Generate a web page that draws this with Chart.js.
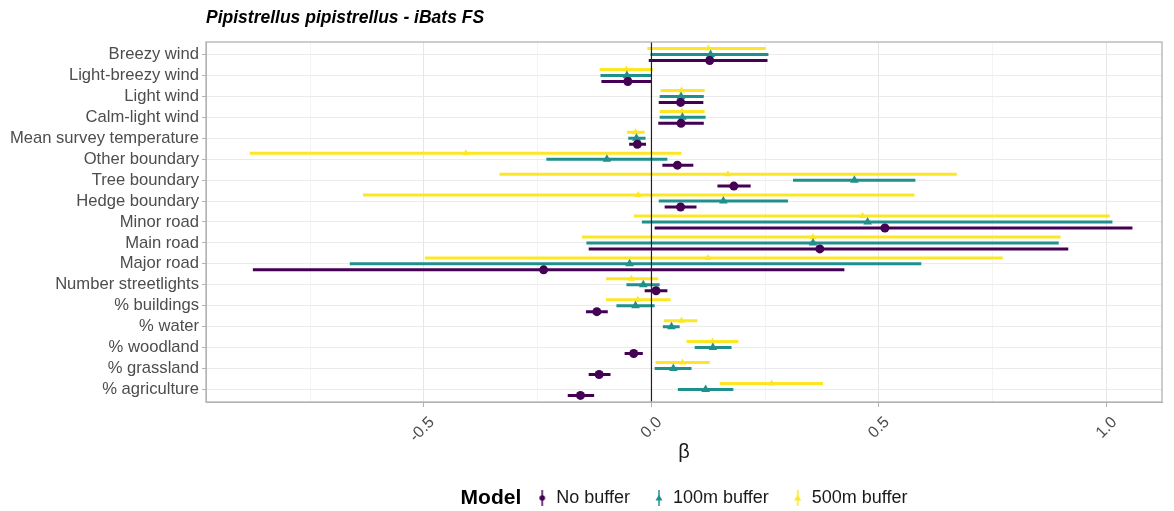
<!DOCTYPE html>
<html>
<head>
<meta charset="utf-8">
<script src="https://cdn.jsdelivr.net/npm/chart.js@4/dist/chart.umd.min.js"></script>
<style>
  html, body { margin: 0; padding: 0; background: #fff; }
</style>
</head>
<body>
<canvas id="chart" width="1174" height="511"></canvas>
<script>
const categories = ['Breezy wind', 'Light-breezy wind', 'Light wind', 'Calm-light wind',
  'Mean survey temperature', 'Other boundary', 'Tree boundary', 'Hedge boundary',
  'Minor road', 'Main road', 'Major road', 'Number streetlights', '% buildings',
  '% water', '% woodland', '% grassland', '% agriculture'];

// estimates and interval ends, one value per category (null = not in model)
const noBufferEst = [0.128, -0.052, 0.064, 0.065, -0.031, 0.057, 0.181, 0.064, 0.513, 0.370, -0.237, 0.010, -0.120, null, -0.039, -0.115, -0.156];
const noBufferLo  = [-0.006, -0.110, 0.016, 0.015, -0.049, 0.024, 0.145, 0.029, 0.007, -0.138, -0.876, -0.015, -0.144, null, -0.059, -0.138, -0.184];
const noBufferHi  = [0.255, 0.000, 0.114, 0.115, -0.012, 0.092, 0.218, 0.099, 1.057, 0.916, 0.424, 0.035, -0.096, null, -0.019, -0.090, -0.126];

const buf100Est = [0.130, -0.054, 0.065, 0.068, -0.033, -0.098, 0.446, 0.158, 0.475, 0.355, -0.048, -0.018, -0.035, 0.044, 0.135, 0.048, 0.119];
const buf100Lo  = [-0.002, -0.112, 0.018, 0.018, -0.051, -0.231, 0.311, 0.016, -0.021, -0.143, -0.663, -0.055, -0.077, 0.025, 0.095, 0.007, 0.058];
const buf100Hi  = [0.257, 0.001, 0.115, 0.119, -0.013, 0.035, 0.580, 0.300, 1.013, 0.895, 0.593, 0.018, 0.007, 0.062, 0.176, 0.088, 0.180];

const buf500Est = [0.125, -0.055, 0.066, 0.067, -0.035, -0.408, 0.168, -0.029, 0.464, 0.355, 0.124, -0.044, -0.030, 0.066, 0.134, 0.068, 0.264];
const buf500Lo  = [-0.009, -0.114, 0.020, 0.018, -0.054, -0.883, -0.334, -0.634, -0.039, -0.153, -0.498, -0.100, -0.100, 0.027, 0.077, 0.009, 0.150];
const buf500Hi  = [0.251, 0.003, 0.117, 0.117, -0.015, 0.066, 0.671, 0.578, 1.007, 0.899, 0.772, 0.015, 0.042, 0.101, 0.191, 0.128, 0.377];

const xTicks = [-0.75, -0.5, -0.25, 0, 0.25, 0.5, 0.75, 1.0];

Chart.defaults.font.family = '"Liberation Sans", Arial, sans-serif';

const isMajor = v => Math.abs(v * 2 - Math.round(v * 2)) < 1e-9;

// point + interval rows: lo, est, hi, gap
function rows(est, lo, hi, shift) {
  const out = [];
  est.forEach((e, i) => {
    if (e === null) return;
    const y = i + 1 + shift;
    out.push({x: lo[i], y: y}, {x: e, y: y}, {x: hi[i], y: y}, {x: null, y: null});
  });
  return out;
}

function legendIcon(color, shape) {
  const c = document.createElement('canvas');
  c.width = 10; c.height = 18;
  const g = c.getContext('2d');
  g.strokeStyle = color; g.fillStyle = color; g.lineWidth = 1.5;
  g.beginPath(); g.moveTo(5, 1); g.lineTo(5, 17); g.stroke();
  g.beginPath();
  if (shape === 'circle') {
    g.arc(5, 9, 2.8, 0, Math.PI * 2);
  } else {
    g.moveTo(5, 5.5); g.lineTo(8.5, 11.5); g.lineTo(1.5, 11.5); g.closePath();
  }
  g.fill();
  return c;
}

const series = [
  {label: 'No buffer', color: '#440154', shape: 'circle', r: 4.5, est: noBufferEst, lo: noBufferLo, hi: noBufferHi, shift: 0.285, order: 1},
  {label: '100m buffer', color: '#21908C', shape: 'triangle', r: 5, est: buf100Est, lo: buf100Lo, hi: buf100Hi, shift: 0, order: 2},
  {label: '500m buffer', color: '#FDE725', shape: 'triangle', r: 4, est: buf500Est, lo: buf500Lo, hi: buf500Hi, shift: -0.285, order: 3}
];

const datasets = series.map(s => ({
  type: 'line',
  label: s.label,
  data: rows(s.est, s.lo, s.hi, s.shift),
  borderColor: s.color,
  backgroundColor: s.color,
  borderWidth: 3,
  spanGaps: false,
  pointStyle: s.shape,
  pointRadius: ctx => (ctx.index % 4 === 1 ? s.r : 0),
  pointBorderWidth: 0,
  order: s.order
}));

datasets.push({
  type: 'line',
  label: 'zero',
  data: [{x: 0, y: 0.4}, {x: 0, y: categories.length + 0.6}],
  borderColor: '#222',
  borderWidth: 1.2,
  pointRadius: 0,
  order: 0
});

const modelFont = 'bold 21px "Liberation Sans", Arial, sans-serif';

const modelLegend = {
  id: 'modelLegend',
  afterLayout(chart) {
    const lg = chart.legend, ca = chart.chartArea, ctx = chart.ctx;
    ctx.save();
    ctx.font = modelFont;
    const w = ctx.measureText('Model').width + 16;
    ctx.restore();
    const target = (ca.left + ca.right) / 2 + w / 2;
    const shift = target - (lg.left + lg.right) / 2;
    lg.left += shift; lg.right += shift;
  },
  afterDraw(chart) {
    const ctx = chart.ctx, ca = chart.chartArea;
    ctx.save();
    ctx.strokeStyle = '#b3b3b3'; ctx.lineWidth = 1.3;
    ctx.strokeRect(ca.left, ca.top, ca.right - ca.left, ca.bottom - ca.top);
    const hb = chart.legend.legendHitBoxes[0];
    if (hb) {
      ctx.font = modelFont;
      ctx.fillStyle = '#000';
      ctx.textAlign = 'right'; ctx.textBaseline = 'middle';
      ctx.fillText('Model', hb.left - 16, hb.top + hb.height / 2);
    }
    ctx.restore();
  }
};

new Chart(document.getElementById('chart'), {
  data: { datasets: datasets },
  options: {
    responsive: false,
    animation: false,
    layout: { padding: { left: 0, right: 12, top: 0, bottom: -6 } },
    plugins: {
      title: {
        display: true,
        text: 'Pipistrellus pipistrellus - iBats FS',
        align: 'start',
        fullSize: false,
        color: '#000',
        font: { size: 17.5, weight: 'bold', style: 'italic' },
        padding: { top: 8, bottom: 13 }
      },
      legend: {
        position: 'bottom',
        labels: {
          usePointStyle: true,
          boxWidth: 10,
          padding: 24,
          color: '#1a1a1a',
          font: { size: 18 },
          generateLabels: () => series.map((s, i) => ({
            text: s.label,
            pointStyle: legendIcon(s.color, s.shape),
            fillStyle: s.color,
            strokeStyle: s.color,
            lineWidth: 0,
            fontColor: '#1a1a1a',
            hidden: false,
            datasetIndex: i
          }))
        }
      },
      tooltip: { enabled: false }
    },
    scales: {
      x: {
        type: 'linear',
        min: -0.979,
        max: 1.122,
        afterBuildTicks: s => { s.ticks = xTicks.map(v => ({ value: v })); },
        afterFit: s => { s.height = 63; },
        ticks: {
          autoSkip: false,
          minRotation: 45,
          maxRotation: 45,
          labelOffset: 8,
          padding: 6,
          color: '#4d4d4d',
          font: { size: 16 },
          callback: v => (isMajor(v) ? v.toFixed(1) : '')
        },
        grid: {
          color: ctx => (ctx.tick && isMajor(ctx.tick.value) ? '#e6e6e6' : '#f4f4f4'),
          tickColor: ctx => (ctx.tick && isMajor(ctx.tick.value) ? '#b3b3b3' : 'rgba(0,0,0,0)'),
          tickLength: 5
        },
        border: { color: '#b3b3b3' },
        title: { display: true, text: 'β', color: '#1a1a1a', font: { size: 20 }, padding: { top: 2, bottom: 1 } }
      },
      y: {
        type: 'linear',
        reverse: true,
        min: 0.4,
        max: categories.length + 0.6,
        afterBuildTicks: s => { s.ticks = categories.map((c, i) => ({ value: i + 1 })); },
        afterFit: s => { s.width = 206; },
        ticks: {
          autoSkip: false,
          color: '#4d4d4d',
          padding: 3,
          font: { size: 16.6 },
          callback: v => categories[v - 1]
        },
        grid: { color: '#ebebeb', tickColor: '#b3b3b3', tickLength: 4 },
        border: { color: '#b3b3b3' }
      }
    }
  },
  plugins: [modelLegend]
});
</script>
</body>
</html>
